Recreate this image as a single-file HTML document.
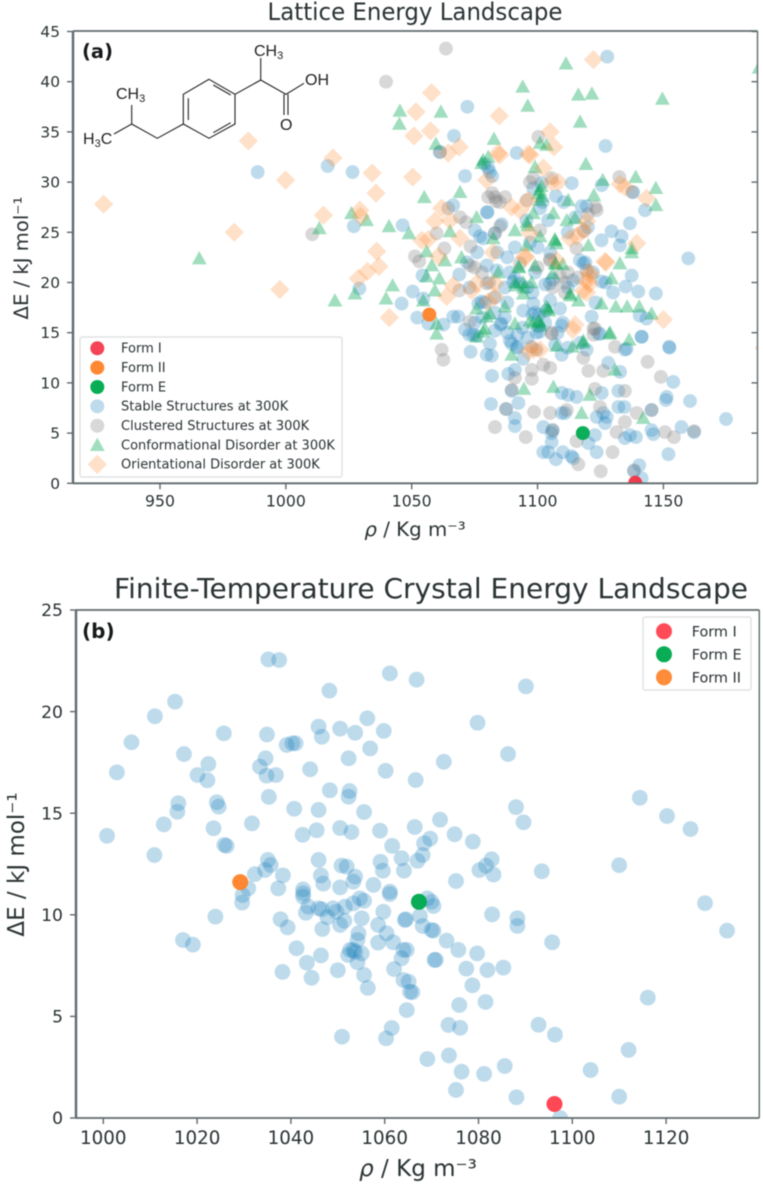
<!DOCTYPE html>
<html lang="en">
<head>
<meta charset="utf-8">
<title>Lattice and Finite-Temperature Crystal Energy Landscapes</title>
<style>
html,body{margin:0;padding:0;background:#fff;}
svg{display:block;filter:blur(0.4px);}
text{font-family:"DejaVu Sans","Liberation Sans",sans-serif;fill:#2a3234;}
.chem{font-family:"Liberation Sans",sans-serif;font-size:16px;fill:#222;}
.bond{stroke:#222;stroke-width:1.1;fill:none;}
</style>
</head>
<body>
<svg id="figure" width="763" height="1187" viewBox="0 0 763 1187" xmlns="http://www.w3.org/2000/svg">
<defs>
<clipPath id="clipA"><rect x="73" y="31" width="684.5" height="452.5"/></clipPath>
<clipPath id="clipB"><rect x="76" y="610" width="683.5" height="508"/></clipPath>
</defs>
<rect width="763" height="1187" fill="#fff"/>

<text x="415" y="20" font-size="24" text-anchor="middle" textLength="295" lengthAdjust="spacingAndGlyphs">Lattice Energy Landscape</text>
<text x="431" y="598" font-size="27.5" text-anchor="middle" textLength="634" lengthAdjust="spacingAndGlyphs">Finite-Temperature Crystal Energy Landscape</text>

<g id="marksA" clip-path="url(#clipA)"></g>
<g id="marksB" clip-path="url(#clipB)"></g>
<g id="axesA"></g>
<g id="axesB"></g>

<text x="82" y="58" font-size="19.5" font-weight="bold" style="fill:#16191a">(a)</text>
<text x="82" y="638" font-size="20" font-weight="bold" style="fill:#16191a">(b)</text>

<text x="415" y="536" font-size="19.8" text-anchor="middle"><tspan font-style="italic">ρ</tspan> / Kg m⁻³</text>
<text x="418" y="1176" font-size="23" text-anchor="middle"><tspan font-style="italic">ρ</tspan> / Kg m⁻³</text>
<text transform="translate(28,258) rotate(-90)" font-size="19.6" text-anchor="middle">ΔE / kJ mol⁻¹</text>
<text transform="translate(24,864.5) rotate(-90)" font-size="23" text-anchor="middle">ΔE / kJ mol⁻¹</text>

<g>
  <polygon class="bond" points="209,79.3 235,94.3 235,124 209,138.3 183.3,124 183.3,94.3"/>
  <path class="bond" d="M213.3,85 L230.7,95 M188.3,98.3 L188.3,120 M213.3,132.7 L230.7,122.7"/>
  <path class="bond" d="M235,94.3 L260.7,80 L260.7,58 M260.7,80 L286,94.3 L304,83.3 M284,94.3 L284,115 M288,94.3 L288,115"/>
  <path class="bond" d="M183.3,124 L157.3,138.3 L131.7,124 L131.7,105 M131.7,124 L114,134"/>
  <text class="chem" x="254" y="56">CH<tspan font-size="11" dy="3">3</tspan></text>
  <text class="chem" x="305" y="85">OH</text>
  <text class="chem" x="280" y="130">O</text>
  <text class="chem" x="116" y="99">CH<tspan font-size="11" dy="3">3</tspan></text>
  <text class="chem" x="83" y="144">H<tspan font-size="11" dy="3">3</tspan><tspan dy="-3">C</tspan></text>
</g>

<g>
  <rect x="80" y="337" width="262" height="140" rx="2" fill="#fff" fill-opacity="0.8" stroke="#dcdedf" stroke-width="1.2"/>
  <g id="legendA"></g>
</g>
<g>
  <rect x="643" y="617" width="108" height="73" rx="2" fill="#fff" fill-opacity="0.8" stroke="#dcdedf" stroke-width="1.2"/>
  <g id="legendB"></g>
</g>
</svg>

<script>
// ---------- Chart A: Lattice Energy Landscape (rho, deltaE) ----------
const stableA = [[988.8,31],[1016.6,31.6],[1026.5,31],[1027,25.6],[1029.2,19.4],[1127.7,42.5],[1072.1,37.5],[1066.8,34.6],[1127,33.6],[1091.7,32.9],[1061.2,33],[1071.2,30.6],[1080.4,31.4],[1113.6,29.9],[1125.5,29.7],[1138,29],[1142.7,27.2],[1136.7,25.9],[1080.2,27],[1066.5,27.7],[1046.4,25.7],[1159.9,22.4],[1132.7,23.7],[1133.4,24.6],[1129.4,25.1],[1125.4,24.2],[1119.5,27.6],[1117.5,27.6],[1110.4,28],[1107.3,28.6],[1101.6,29.9],[1098.3,29.4],[1104.2,26.2],[1095.6,26.2],[1085.7,25.8],[1083,24.9],[1077.1,24.6],[1075.1,25.2],[1079.8,27],[1078.4,24.4],[1054.3,20.7],[1068.9,20.8],[1079.8,21.7],[1050.4,19.1],[1046,17.9],[1054.6,18.4],[1052.2,16.5],[1066.5,16.6],[1062.6,15.8],[1068.5,16.6],[1071.2,15.3],[1074.5,14.8],[1076.5,17.9],[1056.6,15.9],[1083.8,21.2],[1090.3,20.1],[1104.9,19.9],[1118.2,21.9],[1116.8,22.2],[1137.4,20.7],[1135,19.6],[1140,19.1],[1147,18.9],[1125.4,20.1],[1098.3,17.9],[1108.9,17.4],[1085.3,15.8],[1100.9,15.1],[1109.5,15.7],[1124.1,14.9],[1141.3,14.6],[1089,14.2],[1081.1,13.9],[1121.5,16.6],[1143.3,16.4],[1140.6,16.7],[1152.3,13.6],[1135.4,13.4],[1094.3,17.2],[1077.8,18.1],[1092.3,13.6],[1075.8,14.7],[1072.9,14.8],[1073.4,13.1],[1079.8,12.8],[1081.8,12.7],[1081.9,10.7],[1088.4,10.9],[1091,11.3],[1089.7,13.9],[1091.7,13.5],[1094.3,12.4],[1089.7,9.2],[1092.4,8],[1081.5,7.9],[1087.5,7.4],[1091,6.5],[1091,5.7],[1102.3,5.6],[1105.6,5],[1106,5.3],[1105.6,4.1],[1102.3,3.1],[1104.3,3.1],[1107.3,2.4],[1110,3.1],[1113.5,2.7],[1114.2,2.5],[1123.5,3.1],[1120.2,4],[1122.8,4.8],[1115.5,8.6],[1109.6,9],[1112.2,8.8],[1125.5,9],[1109.6,7],[1110.9,7],[1123.5,6.6],[1126.1,7],[1127.5,6.6],[1126.8,6],[1132.1,7.6],[1134.5,7.6],[1132.1,9.2],[1145.3,7.3],[1145.3,5.3],[1146,4.9],[1134.7,4.5],[1136.7,4.8],[1139.1,4.6],[1151.3,8.6],[1151,8.3],[1153.9,10.1],[1160.6,8.2],[1157.2,5.6],[1162.2,5.1],[1174.9,6.4],[1152,2.9],[1140.4,1.8],[1138.3,1.2],[1141.4,0.5],[1132.8,11.1],[1128.1,12],[1134.7,13.3],[1141.4,14.6],[1152.4,13.5],[1109.6,12.8],[1119.5,13.3],[1124.8,14.9],[1103.3,17.2],[1100.3,15.6],[1099.6,15],[1085.7,15.9],[1105,18.2],[1112,19.5],[1088,18],[1096,19.5],[1094,15.5],[1087,19.5],[1114,20.2],[1081,31],[1082,30.6],[1079,31.8],[1089,21],[1091,20.4],[1093,19.9],[1098,19],[1103,19.8],[1106,20.3],[1099,21],[1100.5,16.8],[1099,17],[1110,16],[1103,16],[1098,16.8],[1096,14.5],[1092,14.8],[1088,15],[1083,15.2],[1112,13.5],[1117,14],[1107,13.8],[1108,15],[1075,16],[1078,16.5],[1083,17],[1087,16.5],[1119,22],[1122,21],[1123,18],[1127,20],[1130,19],[1120,25.5],[1115,26.5],[1112,25],[1100,23.5],[1097,24],[1105,23],[1102,28],[1101,27.4],[1091,23.5],[1088,22.5],[1084,23],[1076,23],[1072,22],[1073,19.5],[1083,18.5],[1079,18]];
const clusteredA = [[1010.5,24.8],[1063.6,43.3],[1039.8,40],[1100.3,34.5],[1061.2,33],[1132.5,30.5],[1137.6,29],[1123.5,27.2],[1083.1,28.5],[1080.4,28.5],[1087.1,28.5],[1095.7,28.2],[1098.3,30.4],[1105.6,30.4],[1069.2,26.5],[1071.6,26],[1064.5,27.4],[1073.4,23.6],[1063,23.4],[1051.3,22.6],[1053,22.1],[1059.9,24.9],[1083.1,24.9],[1085.1,25.6],[1101,25.2],[1115.5,23.4],[1118.4,25.1],[1105,22.3],[1073.1,21.7],[1079.8,19.9],[1068.9,19.2],[1073.1,16.1],[1080.8,20],[1104.9,22.2],[1110.9,20],[1122.8,15.4],[1105.6,14.9],[1110.9,19],[1119.5,21.2],[1061.9,13.3],[1062.6,12.3],[1083.1,5.6],[1095.3,4.6],[1098.6,7.1],[1105,7],[1106,5.3],[1111.6,7.3],[1116.2,1.9],[1125.1,1.2],[1129.8,3.1],[1120.2,11.2],[1118.2,12.5],[1126.1,11.2],[1130.8,13.6],[1143.7,12.1],[1149,10.6],[1134.7,9.2],[1122.8,9.4],[1124.8,7.6],[1139.4,7],[1134.7,6.1],[1131.4,5.1],[1150.6,5.1],[1154.2,4.6],[1115.5,4.2],[1122.2,14.8],[1105.6,15],[1099.6,13.3],[1105,11.5],[1102.3,11.8],[1097.7,10.4],[1097.7,11.3],[1091,10.5],[1122.2,15.4],[1108.9,20.6],[1097.6,13.6],[1089.7,9.3],[1087.5,7.4],[1145.3,7.3],[1162.2,5.2],[1138.3,1.3],[1083.5,28.1],[1082,28.9],[1085,28],[1120,26.8],[1123,27.5],[1097,30],[1075,21.5],[1078,21],[1112,21],[1116,20.5],[1106,19.5],[1100,21.5],[1093,21.9]];
const conformationalA = [[965.6,22.4],[1013.3,25.4],[1026.1,26.9],[1032.1,26.2],[1019.5,18.2],[1027.4,18.9],[1111.3,41.8],[1094.1,39.5],[1096.1,37.6],[1116.2,38.7],[1121.6,38.8],[1149.6,38.3],[1116.9,36],[1045.3,37.1],[1045.1,35.8],[1061.6,37],[1082.7,34.3],[1059.6,33.8],[1101,33.9],[1103.6,33.7],[1077.8,31.9],[1080.4,32.5],[1119.2,31.8],[1125.9,30.2],[1139,30.5],[1147,29.4],[1147,27.7],[1055,28.5],[1069.2,29],[1099,31.5],[1122.4,28.7],[1112.2,28.2],[1041,25.6],[1048.9,24.9],[1075.8,26.5],[1065.2,25.1],[1091,25.2],[1106.3,26.9],[1098.3,26.9],[1111.6,26.2],[1114.9,26.4],[1095.7,23.7],[1120.2,23.7],[1137.4,23.4],[1069.8,22.5],[1063.2,22.2],[1106.9,24.2],[1101,24.6],[1132.7,21.9],[1092.4,21.6],[1107,21.9],[1058,21.7],[1082.4,24.4],[1055.9,23.1],[1061,20.4],[1042.4,19.7],[1039.8,18.4],[1059.2,19.2],[1054.6,18.2],[1055.9,20.6],[1059.9,14.9],[1059.9,15.9],[1075.8,17.4],[1079.8,16.6],[1079.1,15.4],[1084.4,21],[1092.7,21.5],[1099,21.7],[1107.3,21.9],[1137.4,23],[1129.4,20.4],[1091,20],[1094.3,20],[1097.6,20],[1106,20.9],[1131.1,17.6],[1135.6,17.6],[1140.4,17.6],[1145.3,16.9],[1125.4,17.9],[1116.2,18.2],[1104.2,17.4],[1081.1,16.9],[1087,17.6],[1091,15.9],[1097,16.2],[1100.9,16.1],[1078.4,15.1],[1112.9,18.9],[1128.5,14.9],[1118.2,14.2],[1136.4,14.3],[1107.6,13.7],[1113.9,13.6],[1094.3,18.9],[1094.6,9.4],[1106.3,9.6],[1120.8,8.8],[1117.5,7],[1142,6.5],[1130.8,11.3],[1089.7,12.8],[1128.8,15],[1075.8,14.6],[1098.3,16],[1100.9,29.2],[1101.6,28.6],[1100.9,28.2],[1078.4,32.2],[1188,41.4],[1101.5,29.6],[1100.3,28.9],[1095.7,26],[1096,25.7],[1106.9,24.3],[1107.5,23.9],[1113,18.7],[1094.5,19.5],[1091.3,19.7],[1104.5,17.2],[1103.5,17.6],[1100.5,16.2],[1101.2,15.7],[1118,14],[1110,21.8]];
const orientationalA = [[927.6,27.8],[985.1,34.1],[999.9,30.2],[979.5,25],[1018.7,32.4],[1014.9,26.7],[1029.4,27.2],[1029.7,26.6],[1034.3,30.9],[1035.8,28.9],[1036.1,23.1],[1037,21.6],[1032.4,21.1],[1028.8,20.4],[997.6,19.3],[1041.1,16.5],[1050.4,30.5],[1057.9,38.9],[1051.7,37],[1084.8,36.6],[1050.9,34.6],[1057.5,35.1],[1068.9,33.5],[1064.5,32.9],[1084.4,32.9],[1105,35],[1106.5,33.5],[1096.3,32.8],[1102.3,31.4],[1108.3,30],[1105.6,30],[1122.2,42.2],[1079.8,30.2],[1132.8,29.8],[1134.8,29.5],[1143.3,28.4],[1061.9,27.4],[1059.2,26.1],[1065.2,26.2],[1054,24.2],[1056.6,24.3],[1069.2,24.4],[1060.6,22.6],[1089.7,27.5],[1093,27.2],[1096.3,28.2],[1119.5,26.1],[1115.5,24.6],[1112.9,24.4],[1118.2,25.2],[1097,24.9],[1139.4,23.9],[1082.4,23],[1095,22.6],[1126.8,22.1],[1107.6,22.2],[1150,16.3],[1114.9,15.8],[1114,15.3],[1098.3,13.3],[1096.3,13.1],[1101,13.3],[1063.9,18.6],[1066.5,19.7],[1073.8,19.2],[1075.8,19.9],[1083.1,19.9],[1083.1,18.6],[1080.4,18.1],[1120.8,20.7],[1119.5,20.1],[1118.2,19.2],[1085,32.7],[1097,32.7],[1095.2,22.5],[1127.2,22],[1120.8,21],[1120.8,19.9],[1119.5,19],[1190,13.5]];
const formIA = [[1138.8,0.05]];
const formIIA = [[1057,16.8]];
const formEA = [[1118,5]];
const ticksXA = [950,1000,1050,1100,1150];
const ticksYA = [0,5,10,15,20,25,30,35,40,45];
const legendLabelsA = ["Form I","Form II","Form E","Stable Structures at 300K","Clustered Structures at 300K","Conformational Disorder at 300K","Orientational Disorder at 300K"];

// ---------- Chart B: Finite-Temperature Crystal Energy Landscape (rho, deltaE) ----------
const stableB = [[1035.2,22.57],[1037.5,22.54],[1061.1,21.88],[1048.2,21.03],[1015.3,20.49],[1011,19.77],[1006,18.49],[1002.9,17.01],[1000.8,13.89],[1010.9,12.94],[1012.9,14.45],[1015.8,15.07],[1016,15.49],[1017.2,17.91],[1020.1,16.88],[1022.4,17.42],[1022.2,16.62],[1025.7,18.93],[1024.2,15.54],[1024.6,15.32],[1023.5,14.26],[1025.8,13.44],[1026.3,13.39],[1031.7,14.5],[1034.9,18.87],[1034.6,17.7],[1033.4,17.29],[1034.8,16.85],[1036.8,16.88],[1035.3,15.8],[1039.1,18.36],[1040.3,18.44],[1041,18.44],[1044.1,17.16],[1040.7,15.22],[1045.9,15.16],[1042.5,13.94],[1045.5,14.16],[1045.9,19.26],[1046.6,18.76],[1050.5,19.16],[1053.7,18.96],[1056.3,19.67],[1059.8,19.05],[1056.9,18.19],[1052.3,17.7],[1060.2,17.09],[1048.3,16.13],[1052.5,16.09],[1052.3,15.81],[1055.6,15.06],[1050.5,14.27],[1052.9,14.07],[1059,14.14],[1061.6,13.39],[1063.6,12.78],[1059.1,12.61],[1059.6,12.17],[1064.1,12.17],[1045.9,12.7],[1046.4,11.94],[1046.9,11.53],[1050.8,12.42],[1051.9,12.37],[1053.7,11.88],[1053.3,11.63],[1050.5,11.35],[1057.6,11.47],[1061.1,11.14],[1035.1,12.7],[1035.7,12.45],[1034.5,12.2],[1032.3,12],[1038.3,11.94],[1037.3,11.3],[1030.9,11.3],[1029.7,10.97],[1042.6,11.25],[1042.6,11.06],[1029.6,10.6],[1023.9,9.91],[1017,8.76],[1019.1,8.53],[1037.8,9.78],[1039.3,9.38],[1042.6,10.89],[1043.7,10.4],[1043.2,10.1],[1045.9,10.32],[1046.6,10.27],[1049,10.32],[1049.7,10.15],[1047.8,9.88],[1046.7,9.3],[1050.5,9.5],[1051.4,9.71],[1051.5,10.4],[1053.3,10.56],[1054.7,10.81],[1055.6,10.69],[1055.1,9.83],[1054.4,9.09],[1054.2,8.76],[1052.6,8.27],[1053.3,8.27],[1053.7,8.18],[1055.1,8.1],[1052.2,8.02],[1054.2,7.66],[1055.6,7.04],[1056.4,6.4],[1050,7.27],[1046.4,8],[1041.2,8.35],[1043.4,7.64],[1044.4,6.9],[1038.2,7.19],[1050.9,4],[1061.5,4.43],[1060.3,3.92],[1064.7,5.31],[1062,7.33],[1064,6.79],[1065.1,6.71],[1065.4,6.21],[1058.6,8.63],[1061.8,8.65],[1060.4,9.09],[1058.6,9.5],[1059.7,10.15],[1064.3,9.74],[1064,8.27],[1064.7,8.27],[1063.6,7.86],[1061.1,11.02],[1069.1,10.81],[1070,10.64],[1070.4,10.43],[1064.5,9.78],[1067.5,9.94],[1068.1,9.45],[1070,9.25],[1070.4,9.22],[1073.2,8.73],[1075.7,8.27],[1079.7,8.1],[1070.6,7.78],[1070.9,7.78],[1077.4,7.35],[1081.9,7.28],[1085.3,7.4],[1078.7,6.53],[1075.9,5.56],[1081.5,5.71],[1065.9,6.19],[1073.6,4.58],[1076.1,4.44],[1069.1,2.9],[1073.7,3.08],[1076.4,2.28],[1081.2,2.17],[1085.6,2.56],[1075.2,1.38],[1088.1,1.02],[1092.8,4.59],[1096.3,4.1],[1097.4,0],[1103.9,2.36],[1110,1.05],[1112,3.35],[1116.1,5.92],[1133,9.22],[1128.3,10.57],[1082.9,10.02],[1088.3,9.83],[1088.3,9.45],[1095.7,8.65],[1066.8,21.57],[1090.1,21.24],[1079.8,19.45],[1086.3,17.91],[1072.6,17.53],[1066.6,16.63],[1088,15.3],[1089.6,14.55],[1114.4,15.76],[1120.2,14.86],[1125.2,14.22],[1110,12.44],[1093.5,12.14],[1071.8,14.68],[1066.4,14.32],[1074.9,13.96],[1078.8,13.6],[1069.7,13.75],[1068.4,13.52],[1068.1,12.94],[1067,12.66],[1082.8,12.73],[1081.6,12.42],[1080.2,12.2],[1083.2,11.98],[1075.2,11.66]];
const formIB = [[1096.2,0.69]];
const formIIB = [[1029.2,11.61]];
const formEB = [[1067.3,10.64]];
const ticksXB = [1000,1020,1040,1060,1080,1100,1120];
const ticksYB = [0,5,10,15,20,25];
const legendLabelsB = ["Form I","Form E","Form II"];

// ---------- Axis functions ----------
function xA(v){ return 160 + (v - 950) * 2.517; }
function yA(v){ return 483.3 - v * 10.04; }
function xB(v){ return 103.3 + (v - 1000) * 4.69; }
function yB(v){ return 1118 - v * 20.32; }

const NS = "http://www.w3.org/2000/svg";
const SPINE = "#5f6a6d";
const BLUE = "rgba(31,130,190,0.29)";
const GRAY = "rgba(125,125,125,0.3)";
const GREEN = "rgba(0,166,81,0.37)";
const ORANGE = "rgba(255,140,50,0.27)";

function make(tag, attrs, parent){
  const el = document.createElementNS(NS, tag);
  for (const k in attrs) el.setAttribute(k, attrs[k]);
  parent.appendChild(el);
  return el;
}
function circle(parent, cx, cy, r, fill, name){
  const el = make("circle", {cx: cx, cy: cy, r: r, fill: fill}, parent);
  
  
  return el;
}
function triangle(parent, cx, cy, fill, name){
  const s = 7.4;
  const d = "M" + cx + " " + (cy - s * 1.0) + " L" + (cx + s) + " " + (cy + s * 0.8) + " L" + (cx - s) + " " + (cy + s * 0.8) + " Z";
  const el = make("path", {d: d, fill: fill}, parent);
  
  
  return el;
}
function diamond(parent, cx, cy, fill, name){
  const s = 9.6;
  const d = "M" + cx + " " + (cy - s) + " L" + (cx + s) + " " + cy + " L" + cx + " " + (cy + s) + " L" + (cx - s) + " " + cy + " Z";
  const el = make("path", {d: d, fill: fill}, parent);
  
  
  return el;
}

function drawAxes(g, box, xf, yf, xt, yt, fsX, fsY, rightTicks, prefix){
  const line = function(x1, y1, x2, y2, w, nm){
    const el = make("line", {x1: x1, y1: y1, x2: x2, y2: y2, stroke: SPINE, "stroke-width": w}, g);
    
    
  };
  line(box.l, box.t, box.r, box.t, 1.8, prefix + "-top-spine");
  line(box.l, box.b, box.r, box.b, 1.8, prefix + "-bottom-spine");
  line(box.l, box.t, box.l, box.b, 2.4, prefix + "-left-spine");
  line(box.r, box.t, box.r, box.b, 1.4, prefix + "-right-spine");
  xt.forEach(function(v){
    line(xf(v), box.b, xf(v), box.b + 6, 1.4, prefix + "-x-tick");
    const t = make("text", {x: xf(v), y: box.b + fsX + 7.5, "font-size": fsX, "text-anchor": "middle"}, g);
    t.textContent = v;
    
    
  });
  yt.forEach(function(v){
    line(box.l - 6, yf(v), box.l, yf(v), 1.4, prefix + "-y-tick");
    const t = make("text", {x: box.l - 13, y: yf(v) + fsY * 0.36, "font-size": fsY, "text-anchor": "end"}, g);
    t.textContent = v;
    
    
    if (rightTicks) line(box.r - 6, yf(v), box.r, yf(v), 1.4, prefix + "-y-tick-right");
  });
}

// ---------- Draw chart A ----------
const marksA = document.getElementById("marksA");
stableA.forEach(function(p){ circle(marksA, xA(p[0]), yA(p[1]), 6.9, BLUE, "stable-structure-point"); });
clusteredA.forEach(function(p){ circle(marksA, xA(p[0]), yA(p[1]), 6.9, GRAY, "clustered-structure-point"); });
conformationalA.forEach(function(p){ triangle(marksA, xA(p[0]), yA(p[1]), GREEN, "conformational-disorder-point"); });
orientationalA.forEach(function(p){ diamond(marksA, xA(p[0]), yA(p[1]), ORANGE, "orientational-disorder-point"); });
formIA.forEach(function(p){ circle(marksA, xA(p[0]), yA(p[1]), 7, "rgba(243,48,66,0.95)", "form-i-point"); });
formIIA.forEach(function(p){ circle(marksA, xA(p[0]), yA(p[1]), 7, "rgba(255,130,40,0.95)", "form-ii-point"); });
formEA.forEach(function(p){ circle(marksA, xA(p[0]), yA(p[1]), 7, "rgba(0,170,80,0.95)", "form-e-point"); });
drawAxes(document.getElementById("axesA"), {l: 73, r: 757.5, t: 31, b: 483.3}, xA, yA, ticksXA, ticksYA, 15.7, 15.4, true, "chart-a");

// ---------- Draw chart B ----------
const marksB = document.getElementById("marksB");
stableB.forEach(function(p){ circle(marksB, xB(p[0]), yB(p[1]), 7.9, BLUE, "stable-structure-point"); });
formIB.forEach(function(p){ circle(marksB, xB(p[0]), yB(p[1]), 8, "rgba(255,55,70,0.92)", "form-i-point"); });
formIIB.forEach(function(p){ circle(marksB, xB(p[0]), yB(p[1]), 8, "rgba(255,130,40,0.95)", "form-ii-point"); });
formEB.forEach(function(p){ circle(marksB, xB(p[0]), yB(p[1]), 8, "rgba(0,170,80,0.97)", "form-e-point"); });
drawAxes(document.getElementById("axesB"), {l: 76, r: 759.3, t: 610, b: 1118}, xB, yB, ticksXB, ticksYB, 18.3, 17.2, false, "chart-b");

// ---------- Legends ----------
const legendA = document.getElementById("legendA");
const legendFillsA = ["rgba(243,48,66,0.9)", "rgba(255,130,40,0.95)", "rgba(0,170,80,0.97)", BLUE, GRAY, GREEN, ORANGE];
legendLabelsA.forEach(function(label, i){
  const y = 348.3 + i * 19.35;
  const nm = "chart-a-legend-marker";
  if (i < 5) circle(legendA, 97.3, y, 7, legendFillsA[i], nm);
  else if (i === 5) triangle(legendA, 97.3, y, legendFillsA[i], nm);
  else diamond(legendA, 97.3, y, legendFillsA[i], nm);
  const t = make("text", {x: 121, y: y + 4.3, "font-size": 13}, legendA);
  t.textContent = label;
  
  
});
const legendB = document.getElementById("legendB");
const legendFillsB = ["rgba(255,55,70,0.9)", "rgba(0,170,80,0.97)", "rgba(255,130,40,0.92)"];
legendLabelsB.forEach(function(label, i){
  const y = 631.3 + i * 23;
  circle(legendB, 664, y, 8, legendFillsB[i], "chart-b-legend-marker");
  const t = make("text", {x: 691.7, y: y + 5, "font-size": 14.4}, legendB);
  t.textContent = label;
  
  
});
</script>
</body>
</html>
